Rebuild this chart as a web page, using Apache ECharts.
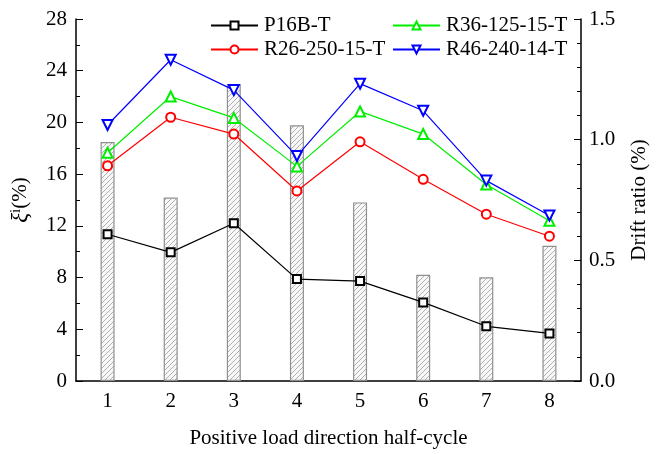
<!DOCTYPE html>
<html>
<head>
<meta charset="utf-8">
<script src="https://cdn.jsdelivr.net/npm/echarts@6/dist/echarts.min.js"></script>
<style>
html,body{margin:0;padding:0;background:#fff;}
#c{width:658px;height:454px;}
</style>
</head>
<body>
<div id="c"></div>
<script>
const categories = ['1','2','3','4','5','6','7','8'];
const driftRatio = [0.99, 0.76, 1.23, 1.06, 0.74, 0.44, 0.43, 0.56];
const p16b = [11.35, 9.95, 12.2, 7.88, 7.73, 6.08, 4.23, 3.68];
const r26 = [16.65, 20.4, 19.1, 14.7, 18.5, 15.6, 12.9, 11.2];
const r36 = [17.65, 22.0, 20.35, 16.6, 20.85, 19.1, 15.2, 12.4];
const r46 = [19.8, 24.85, 22.5, 17.4, 23.0, 20.9, 15.5, 12.8];
const leftTicks = {min: 0, max: 28, interval: 4};
const rightTicks = {min: 0, max: 1.5, interval: 0.5};

const FONT = 'Liberation Serif';

// hatch pattern
const pc = document.createElement('canvas');
pc.width = 5; pc.height = 5;
const g = pc.getContext('2d');
g.fillStyle = '#f8f8f8';
g.fillRect(0,0,5,5);
g.strokeStyle = '#b0b0b0';
g.lineWidth = 1;
g.beginPath();
g.moveTo(-1,6); g.lineTo(6,-1);
g.moveTo(-1,1); g.lineTo(1,-1);
g.moveTo(4,6); g.lineTo(6,4);
g.stroke();

const chart = echarts.init(document.getElementById('c'), null, {renderer:'canvas'});

function lineSeries(name, data, color, symbol, size, rot) {
  return {
    name: name, type: 'line', yAxisIndex: 0, data: data,
    symbol: symbol, symbolSize: size, symbolRotate: rot || 0,
    showAllSymbol: true,
    lineStyle: {color: color, width: 1.2},
    itemStyle: {color: color, borderColor: color, borderWidth: 1.2},
    z: 5
  };
}

function txt(extra) {
  return Object.assign({color:'#000', fontSize: 21, fontFamily: FONT}, extra || {});
}

chart.setOption({
  animation: false,
  backgroundColor: '#fff',
  textStyle: {fontFamily: FONT, fontSize: 21, color: '#000'},
  grid: {left: 76, right: 68, top: 19, bottom: 62, containLabel: false},
  legend: [
    {
      orient: 'vertical', left: 205, top: 10, itemWidth: 47, itemHeight: 10, itemGap: 3,
      textStyle: txt({padding:[0,0,0,1]}),
      data: ['P16B-T','R26-250-15-T']
    },
    {
      orient: 'vertical', left: 387, top: 10, itemWidth: 47, itemHeight: 10, itemGap: 3,
      textStyle: txt({padding:[0,0,0,1]}),
      data: ['R36-125-15-T','R46-240-14-T']
    }
  ],
  xAxis: {
    type: 'category', data: categories, boundaryGap: true,
    name: 'Positive load direction half-cycle', nameLocation: 'middle', nameGap: 47,
    nameTextStyle: txt(),
    axisLine: {show: true, lineStyle: {color:'#000', width: 1.5}},
    axisTick: {show: true, inside: true, alignWithLabel: true, length: 6, lineStyle:{color:'#000', width:1}},
    axisLabel: txt({margin: 10}),
    splitLine: {show: false}
  },
  yAxis: [
    {
      type: 'value', min: leftTicks.min, max: leftTicks.max, interval: leftTicks.interval,
      position: 'left',
      name: '{x|ξ}{s|i}{n|(%)}', nameLocation: 'middle', nameGap: 44, nameRotate: 90,
      nameTextStyle: txt({
        rich: {
          x: {fontSize: 23, fontStyle: 'italic', fontFamily: FONT, color:'#000'},
          s: {fontSize: 15, fontFamily: FONT, color:'#000', verticalAlign: 'top', padding:[0,0,8,0]},
          n: {fontSize: 21, fontFamily: FONT, color:'#000'}
        }
      }),
      axisLine: {show: true, lineStyle: {color:'#000', width: 1.5}},
      axisTick: {show: true, inside: true, length: 7, lineStyle:{color:'#000', width:1}},
      minorTick: {show: true, splitNumber: 2, length: 4, lineStyle:{color:'#000', width:1}},
      axisLabel: txt({margin: 9}),
      splitLine: {show: false}
    },
    {
      type: 'value', min: rightTicks.min, max: rightTicks.max, interval: rightTicks.interval,
      position: 'right',
      name: 'Drift ratio (%)', nameLocation: 'middle', nameGap: 48, nameRotate: 90,
      nameTextStyle: txt(),
      axisLine: {show: true, lineStyle: {color:'#000', width: 1.5}},
      axisTick: {show: true, inside: true, length: 7, lineStyle:{color:'#000', width:1}},
      minorTick: {show: true, splitNumber: 5, length: 4, lineStyle:{color:'#000', width:1}},
      axisLabel: txt({margin: 8, formatter: v => v.toFixed(1)}),
      splitLine: {show: false}
    }
  ],
  series: [
    {
      name: 'Drift ratio', type: 'bar', yAxisIndex: 1, data: driftRatio,
      barWidth: 14, z: 1,
      itemStyle: {color: {image: pc, repeat: 'repeat'}, borderColor: '#909090', borderWidth: 1.2}
    },
    lineSeries('P16B-T', p16b, '#000000', 'emptyRect', 8),
    lineSeries('R26-250-15-T', r26, '#ff0000', 'emptyCircle', 9),
    lineSeries('R36-125-15-T', r36, '#00ee00', 'emptyTriangle', 10),
    lineSeries('R46-240-14-T', r46, '#0000ff', 'emptyTriangle', 10, 180)
  ]
});
</script>
</body>
</html>
